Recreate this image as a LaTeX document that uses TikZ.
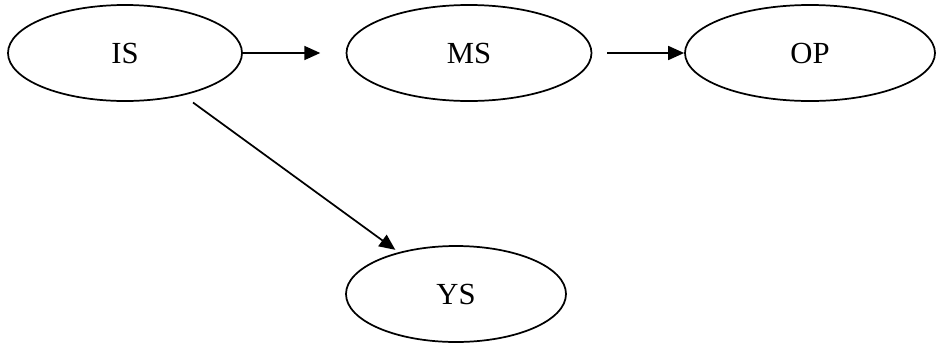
\documentclass[tikz,border=0pt]{standalone}
\usepackage{fontspec}
\setmainfont{Liberation Serif}
\usetikzlibrary{shapes.geometric,arrows.meta}
\tikzset{ell/.style={draw,ellipse,inner sep=0pt,minimum height=72pt,font=\fontsize{23}{27}\selectfont}}

\begin{document}
\begin{tikzpicture}[line width=1.3pt,>={Triangle[length=12pt,width=10.5pt]},x=0.75pt,y=-0.75pt]
	\useasboundingbox (0,0) rectangle (938,347);
	\foreach \n/\x/\y/\w in {IS/125/53/234,MS/469/53/245,OP/810/53/250,YS/456/294/220}{
		\node[ell,minimum width=\w*0.75pt] (\n) at (\x,\y) {\n};
	}
	\draw[->,shorten >=19pt] (IS.east) -- (MS.west);
	\draw[->,shorten <=11pt] (MS.east) -- (OP.west);
	\draw[->,shorten <=9pt,shorten >=3pt] (IS) -- (YS);
\end{tikzpicture}
\end{document}
